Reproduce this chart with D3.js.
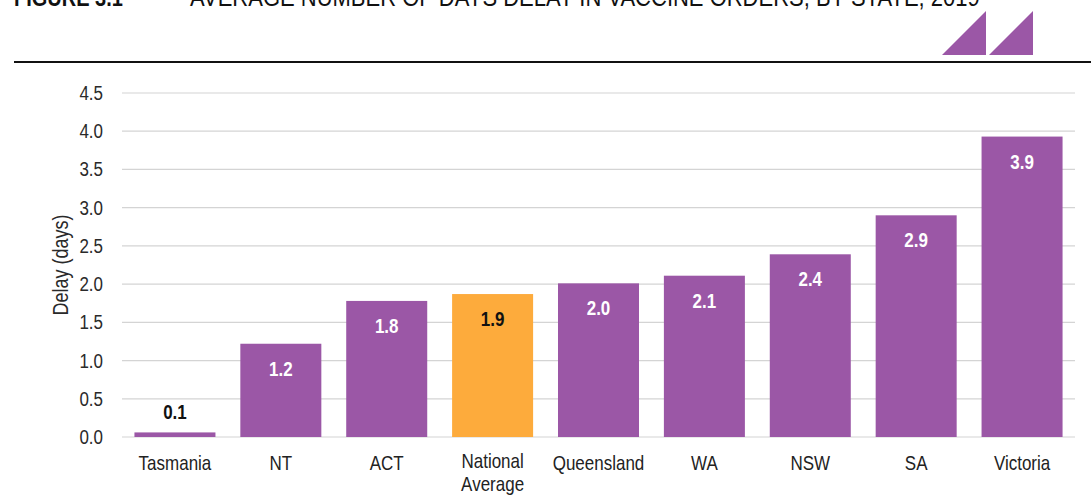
<!DOCTYPE html>
<html>
<head>
<meta charset="utf-8">
<script src="https://cdn.jsdelivr.net/npm/d3@7"></script>
<style>
  body { margin: 0; background: #fff; }
  svg text {
    font-family: "Liberation Sans", Arial, sans-serif;
    transform-box: fill-box;
    transform-origin: center;
    transform: scaleY(1.18);
  }
</style>
</head>
<body>
<svg id="chart" width="1091" height="498"></svg>
<script>
// chart data
const states = ["Tasmania", "NT", "ACT", "National Average", "Queensland", "WA", "NSW", "SA", "Victoria"];
const delays = [0.06, 1.22, 1.78, 1.87, 2.01, 2.11, 2.39, 2.9, 3.93];
const delayLabels = ["0.1", "1.2", "1.8", "1.9", "2.0", "2.1", "2.4", "2.9", "3.9"];
const yTicks = [0, 0.5, 1, 1.5, 2, 2.5, 3, 3.5, 4, 4.5];

const purple = "#9b57a6";
const orange = "#fdab3c";

const svg = d3.select("#chart");
const width = 1091;
const height = 498;
const margin = {left: 122, right: 16, top: 93, bottom: 61};

// header (cut at the top edge like the source)
svg.append("text")
    .attr("x", 14).attr("y", 5)
    .attr("font-size", 20).attr("font-weight", "bold").attr("fill", "#111")
    .text("FIGURE 3.1");
svg.append("text")
    .attr("x", 190).attr("y", 5)
    .attr("font-size", 22).attr("fill", "#111")
    .text("AVERAGE NUMBER OF DAYS DELAY IN VACCINE ORDERS, BY STATE, 2019");

// logo triangles
const logo = svg.append("g").attr("fill", purple);
[942, 989].forEach((x0)=>{
    logo.append("path").attr("d", `M${x0},55 L${x0+44},11 L${x0+44},55 Z`);
});

svg.append("line")
    .attr("x1", 14).attr("x2", width)
    .attr("y1", 62).attr("y2", 62)
    .attr("stroke", "#111").attr("stroke-width", 2);

// scales
const x = d3.scaleBand()
    .domain(states)
    .range([margin.left, width - margin.right])
    .paddingInner(0.235)
    .paddingOuter(0.1175);

const y = d3.scaleLinear()
    .domain([0, 4.5])
    .range([height - margin.bottom, margin.top]);

// gridlines
svg.append("g")
    .selectAll("line")
    .data(yTicks)
    .enter()
    .append("line")
    .attr("x1", margin.left).attr("x2", width - margin.right)
    .attr("y1", (d)=>y(d)).attr("y2", (d)=>y(d))
    .attr("stroke", "#d4d4d4")
    .attr("stroke-width", 1.2);

// y axis labels
const yAxis = svg.append("g")
    .attr("transform", `translate(${margin.left},0)`)
    .call(d3.axisLeft(y).tickValues(yTicks).tickFormat(d3.format(".1f")).tickSize(0).tickPadding(19));
yAxis.select(".domain").remove();
yAxis.selectAll("text")
    .attr("font-size", 17)
    .attr("fill", "#2a2a2a")
    .style("font-family", null);

svg.append("g")
    .attr("transform", `translate(67,${(margin.top + height - margin.bottom) / 2}) rotate(-90)`)
    .append("text")
    .attr("text-anchor", "middle")
    .attr("font-size", 18)
    .attr("fill", "#2a2a2a")
    .text("Delay (days)");

// bars
svg.append("g")
    .selectAll("rect")
    .data(states)
    .enter()
    .append("rect")
    .attr("x", (d)=>x(d))
    .attr("width", x.bandwidth())
    .attr("y", (d, i)=>y(delays[i]))
    .attr("height", (d, i)=>y(0) - y(delays[i]))
    .attr("fill", (d)=> d === "National Average" ? orange : purple);

// value labels
svg.append("g")
    .selectAll("text")
    .data(states)
    .enter()
    .append("text")
    .attr("x", (d)=>x(d) + x.bandwidth() / 2)
    .attr("y", (d, i)=> delays[i] < 0.5 ? y(delays[i]) - 14 : y(delays[i]) + 31)
    .attr("text-anchor", "middle")
    .attr("font-size", 17)
    .attr("font-weight", "bold")
    .attr("fill", (d, i)=> (delays[i] < 0.5 || d === "National Average") ? "#111" : "#fff")
    .text((d, i)=>delayLabels[i]);

// x axis labels
const xAxis = svg.append("g")
    .attr("transform", `translate(0,${y(0)})`)
    .call(d3.axisBottom(x).tickSize(0).tickPadding(20));
xAxis.select(".domain").remove();
xAxis.selectAll("text")
    .attr("font-size", 17)
    .attr("fill", "#222")
    .style("font-family", null)
    .each(function(d){
        const words = d.split(" ");
        if(words.length > 1){
            const t = d3.select(this).text(null);
            words.forEach((w, i)=>{
                t.append("tspan").attr("x", 0).attr("dy", i === 0 ? "0.71em" : "1.15em").text(w);
            });
            t.attr("dy", null);
        }
    });
</script>
</body>
</html>
